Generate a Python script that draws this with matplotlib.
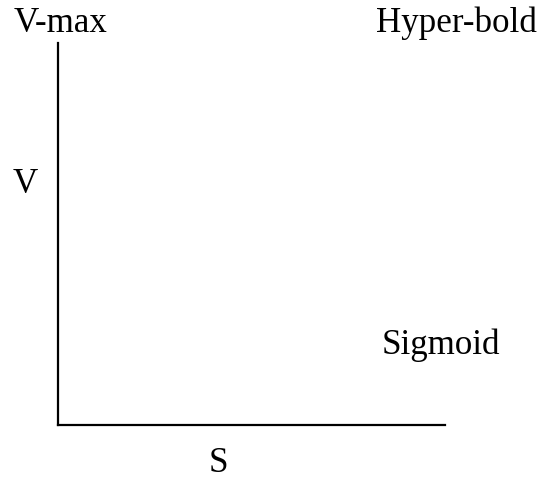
import matplotlib
matplotlib.use("Agg")
import matplotlib.pyplot as plt

# chart text
axis_labels = ["V", "S"]
corner_labels = ["V-max", "Hyper-bold"]
curve_labels = ["Sigmoid"]

W, H = 539, 479
DPI = 100
FS = 25.2

plt.rcParams['font.family'] = ['Liberation Serif', 'DejaVu Serif']

fig = plt.figure(figsize=(W / DPI, H / DPI), dpi=DPI)
fig.patch.set_facecolor('white')

# axes frame: only left and bottom spines, pixel box 58..445 x 43..425
x0, x1, y0, y1 = 58, 445, 43, 425
ax = fig.add_axes([x0 / W, (H - y1) / H, (x1 - x0) / W, (y1 - y0) / H])
ax.set_facecolor('none')
for side in ['top', 'right']:
    ax.spines[side].set_visible(False)
for side in ['left', 'bottom']:
    ax.spines[side].set_linewidth(1.6)
    ax.spines[side].set_color('black')
    ax.spines[side].set_capstyle('projecting')
ax.set_xticks([])
ax.set_yticks([])


def put(txt, px, py):
    # px = left edge, py = baseline, in pixels from top-left
    fig.text(px / W, 1 - py / H, txt, fontsize=FS, ha='left', va='baseline', color='black')


put(corner_labels[0], 14, 32)
put(corner_labels[1], 376, 32)
put(axis_labels[0], 13, 193)
put(curve_labels[0], 382, 354)
put(axis_labels[1], 209, 472)

fig.savefig('out.png', dpi=DPI, facecolor='white')
